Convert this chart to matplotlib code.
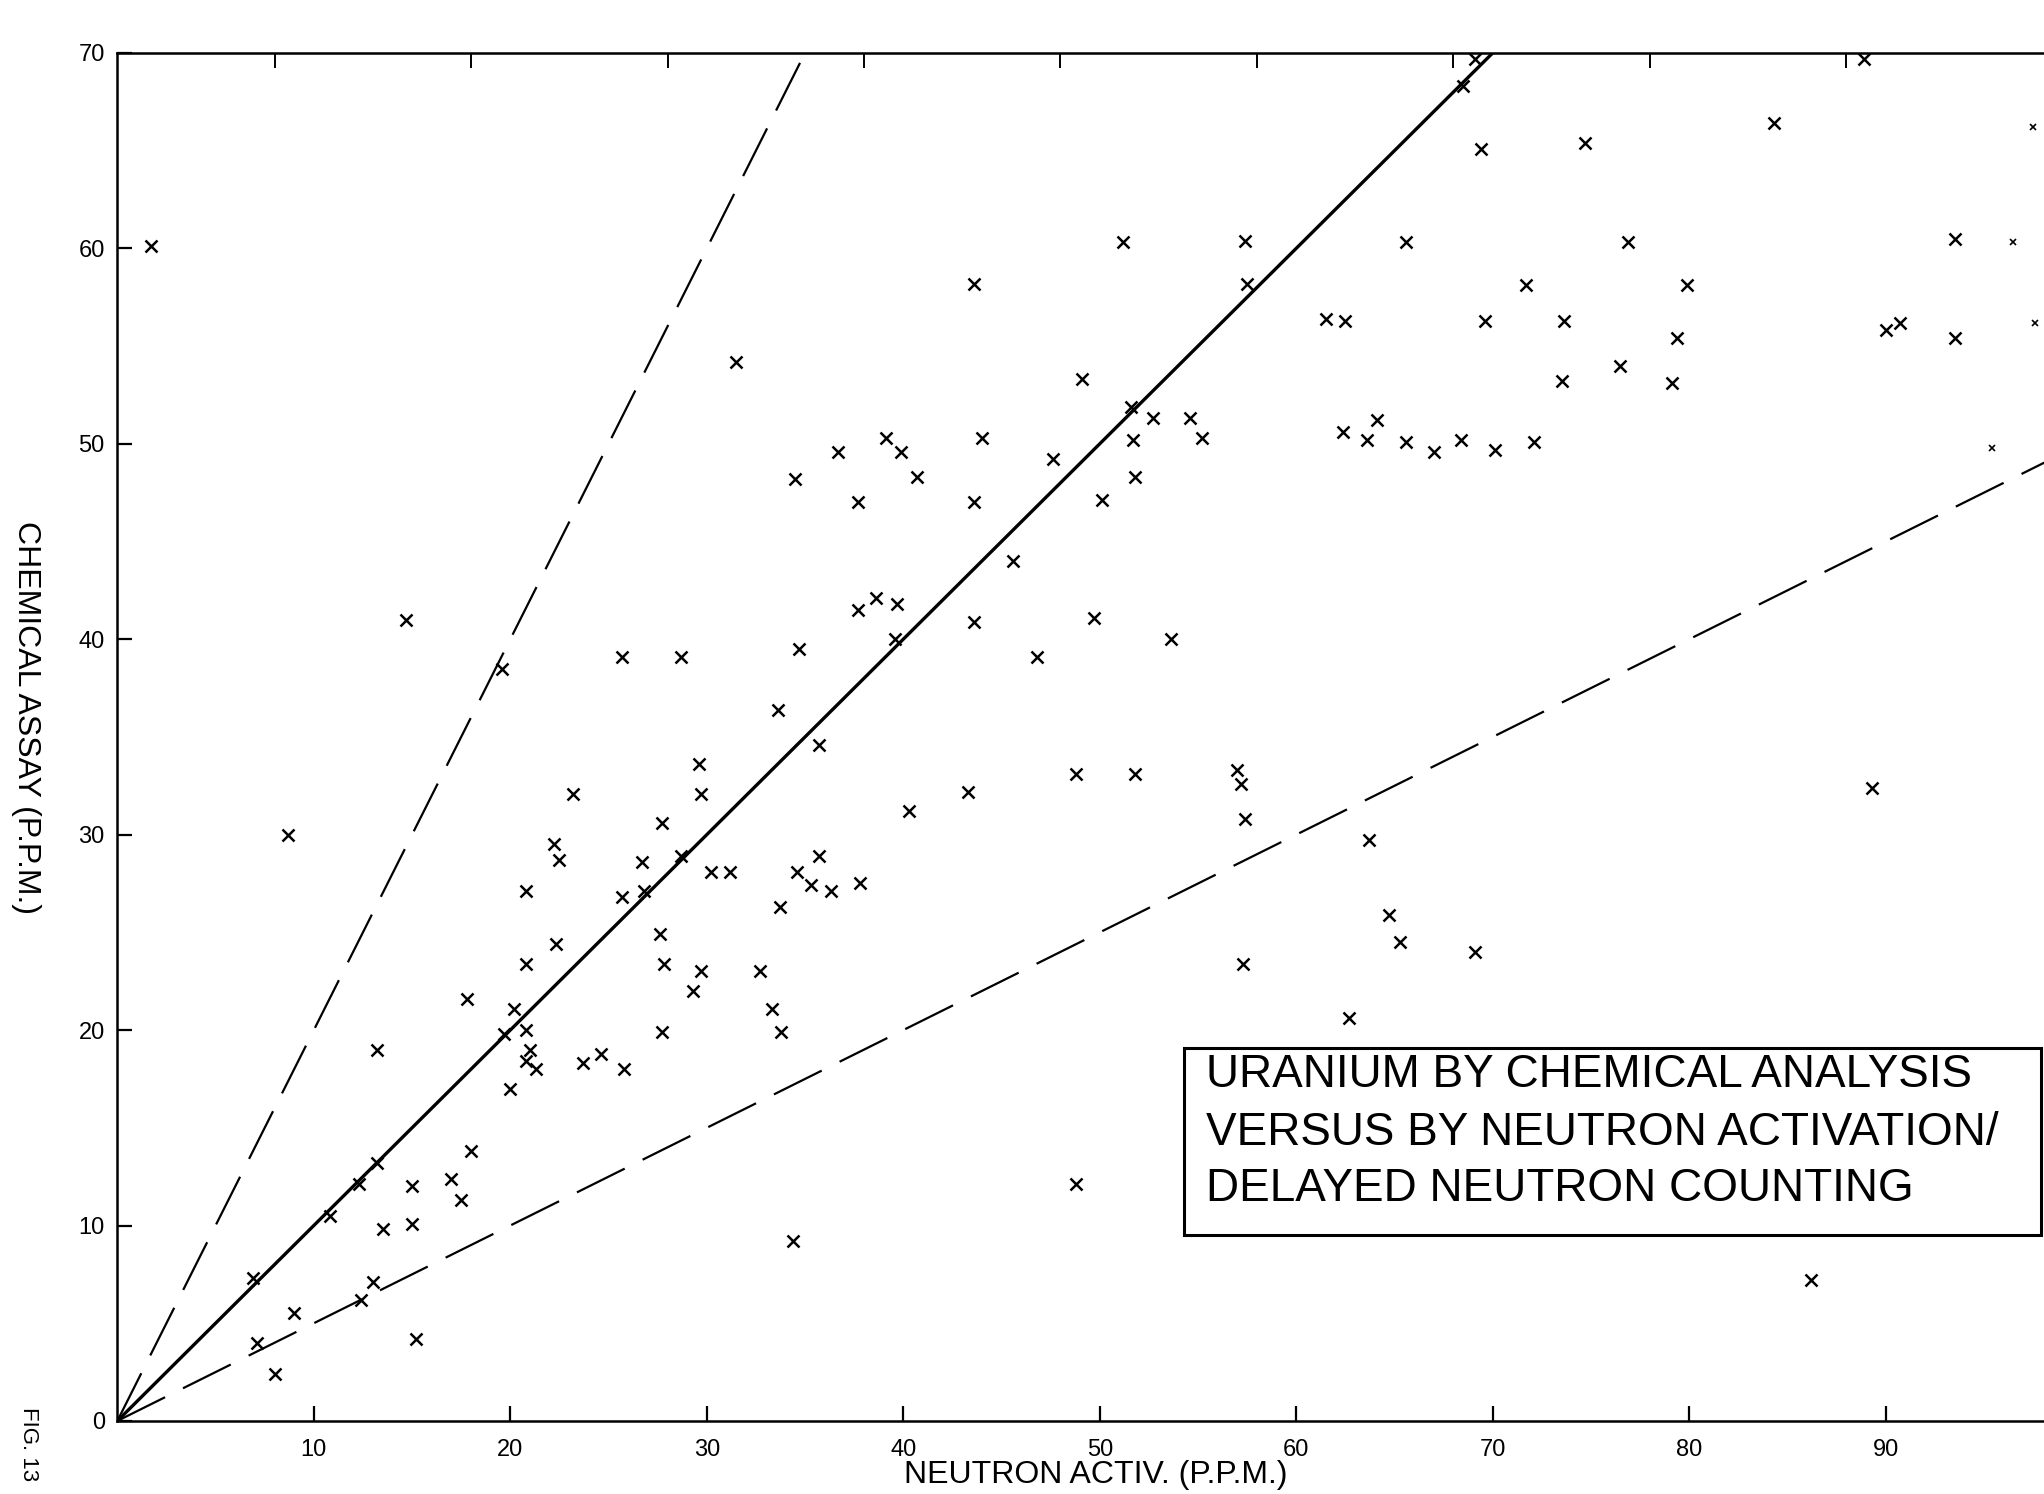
#!/usr/bin/env python3
# -*- coding: utf-8 -*-
"""
Uranium: chemical assay versus neutron activation / delayed neutron counting
"""

import numpy as np
import matplotlib
matplotlib.use("Agg")
import matplotlib.pyplot as plt
from matplotlib.patches import Rectangle

plt.rcParams['font.family'] = ['Liberation Sans', 'DejaVu Sans']

# 读图得到的数据点 (P.P.M.)
neutron_ppm = [
    1.7, 8.7, 14.7, 19.6, 25.7, 28.7, 29.6, 29.7, 23.2, 27.7,
    22.2, 22.5, 26.7, 28.7, 30.2, 20.8, 25.7, 26.8, 27.6, 22.3,
    20.8, 27.8, 29.7, 29.3, 17.8, 20.2, 19.7, 20.8, 27.7, 13.2,
    21.0, 20.8, 21.3, 23.7, 24.6, 25.8, 20.0, 18.0, 17.0, 17.5,
    15.0, 15.0, 13.5, 13.2, 12.3, 10.8, 6.9, 13.0, 12.4, 9.0,
    7.1, 15.2, 8.0, 51.2, 57.4, 57.5, 43.6, 61.5, 62.5, 31.5,
    49.1, 51.6, 52.7, 54.6, 55.2, 51.7, 51.8, 50.1, 62.4, 63.6,
    64.1, 39.1, 39.9, 36.7, 40.7, 34.5, 37.7, 44.0, 47.6, 43.6,
    45.6, 37.7, 38.6, 39.7, 43.6, 49.7, 53.6, 46.8, 39.6, 34.7,
    33.6, 35.7, 48.8, 51.8, 57.0, 57.2, 57.4, 43.3, 40.3, 63.7,
    35.7, 31.2, 34.6, 35.3, 36.3, 37.8, 33.7, 32.7, 33.3, 33.8,
    57.3, 62.7, 64.7, 65.3, 69.1, 89.3, 48.8, 34.4, 86.2, 69.1,
    68.5, 69.4, 74.7, 84.3, 88.9, 65.6, 76.9, 93.5, 71.7, 79.9,
    69.6, 73.6, 79.4, 90.0, 90.7, 93.5, 76.5, 73.5, 79.1, 65.6,
    67.0, 68.4, 70.1, 72.1,
]
chemical_ppm = [
    60.1, 30.0, 41.0, 38.5, 39.1, 39.1, 33.6, 32.1, 32.1, 30.6,
    29.5, 28.7, 28.6, 28.9, 28.1, 27.1, 26.8, 27.1, 24.9, 24.4,
    23.4, 23.4, 23.0, 22.0, 21.6, 21.1, 19.8, 20.0, 19.9, 19.0,
    19.0, 18.4, 18.0, 18.3, 18.8, 18.0, 17.0, 13.8, 12.4, 11.3,
    12.0, 10.1, 9.8, 13.2, 12.1, 10.5, 7.3, 7.1, 6.2, 5.5,
    4.0, 4.2, 2.4, 60.3, 60.4, 58.2, 58.2, 56.4, 56.3, 54.2,
    53.3, 51.9, 51.3, 51.3, 50.3, 50.2, 48.3, 47.1, 50.6, 50.2,
    51.2, 50.3, 49.6, 49.6, 48.3, 48.2, 47.0, 50.3, 49.2, 47.0,
    44.0, 41.5, 42.1, 41.8, 40.9, 41.1, 40.0, 39.1, 40.0, 39.5,
    36.4, 34.6, 33.1, 33.1, 33.3, 32.6, 30.8, 32.2, 31.2, 29.7,
    28.9, 28.1, 28.1, 27.4, 27.1, 27.5, 26.3, 23.0, 21.1, 19.9,
    23.4, 20.6, 25.9, 24.5, 24.0, 32.4, 12.1, 9.2, 7.2, 69.7,
    68.3, 65.1, 65.4, 66.4, 69.7, 60.3, 60.3, 60.5, 58.1, 58.1,
    56.3, 56.3, 55.4, 55.8, 56.2, 55.4, 54.0, 53.2, 53.1, 50.1,
    49.6, 50.2, 49.7, 50.1,
]

# 扫描中只剩残迹的点 (右边缘)
faint_neutron = [97.5, 96.5, 97.6, 98.6, 95.4]
faint_chemical = [66.2, 60.3, 56.2, 56.2, 49.8]

# 参考线 y = k * x
line_slopes = [2.0, 1.0, 0.5]
line_kinds = ['dashed', 'solid', 'dashed']

x_ticks = [10, 20, 30, 40, 50, 60, 70, 80, 90]
y_ticks = [0, 10, 20, 30, 40, 50, 60, 70]
top_ticks = [8, 18, 28, 38, 48, 58, 68, 78, 88]

title_lines = [
    "URANIUM BY CHEMICAL ANALYSIS",
    "VERSUS BY NEUTRON ACTIVATION/",
    "DELAYED NEUTRON COUNTING",
]

fig = plt.figure(figsize=(20.44, 14.94), dpi=100)
ax = fig.add_axes([0.0574, 0.0489, 0.9517, 0.9157])
ax.set_xlim(0, 99)
ax.set_ylim(0, 70)

# 参考线
for k, kind in zip(line_slopes, line_kinds):
    xs = np.array([0.0, 99.0])
    if kind == 'solid':
        ax.plot(xs, k * xs, color='black', lw=2.4, solid_capstyle='butt')
    else:
        ax.plot(xs, k * xs, color='black', lw=1.6, linestyle=(0, (24, 9)))

# 数据点
ax.plot(neutron_ppm, chemical_ppm, 'x', color='black', ms=9, mew=1.8)
ax.plot(faint_neutron, faint_chemical, 'x', color='black', ms=4, mew=1.2)

# 坐标轴
for side in ['left', 'bottom', 'top']:
    ax.spines[side].set_linewidth(1.8)
ax.spines['right'].set_visible(False)

ax.set_xticks(x_ticks)
ax.set_yticks(y_ticks)
ax.tick_params(axis='both', direction='in', length=11, width=1.6, labelsize=17)
ax.tick_params(axis='x', pad=13)
ax.tick_params(axis='y', pad=9)

sec = ax.secondary_xaxis('top')
sec.set_xticks(top_ticks)
sec.set_xticklabels([])
sec.tick_params(direction='in', length=11, width=1.4)

# 标题框
ax.add_patch(Rectangle((54.3, 9.5), 43.6, 9.6, fill=False, lw=2.2,
                       edgecolor='black', zorder=3))
for line, ty in zip(title_lines, [17.7, 14.75, 11.85]):
    ax.text(55.4, ty, line, fontsize=33, ha='left', va='center')

# 轴标题
fig.text(0.536, 0.013, "NEUTRON ACTIV. (P.P.M.)", fontsize=23,
         ha='center', va='center')
fig.text(0.0127, 0.52, "CHEMICAL ASSAY (P.P.M.)", fontsize=23,
         ha='center', va='center', rotation=270)
fig.text(0.014, 0.058, "FIG. 13", fontsize=16, ha='center', va='top',
         rotation=270)

fig.savefig("out.png", dpi=100)
